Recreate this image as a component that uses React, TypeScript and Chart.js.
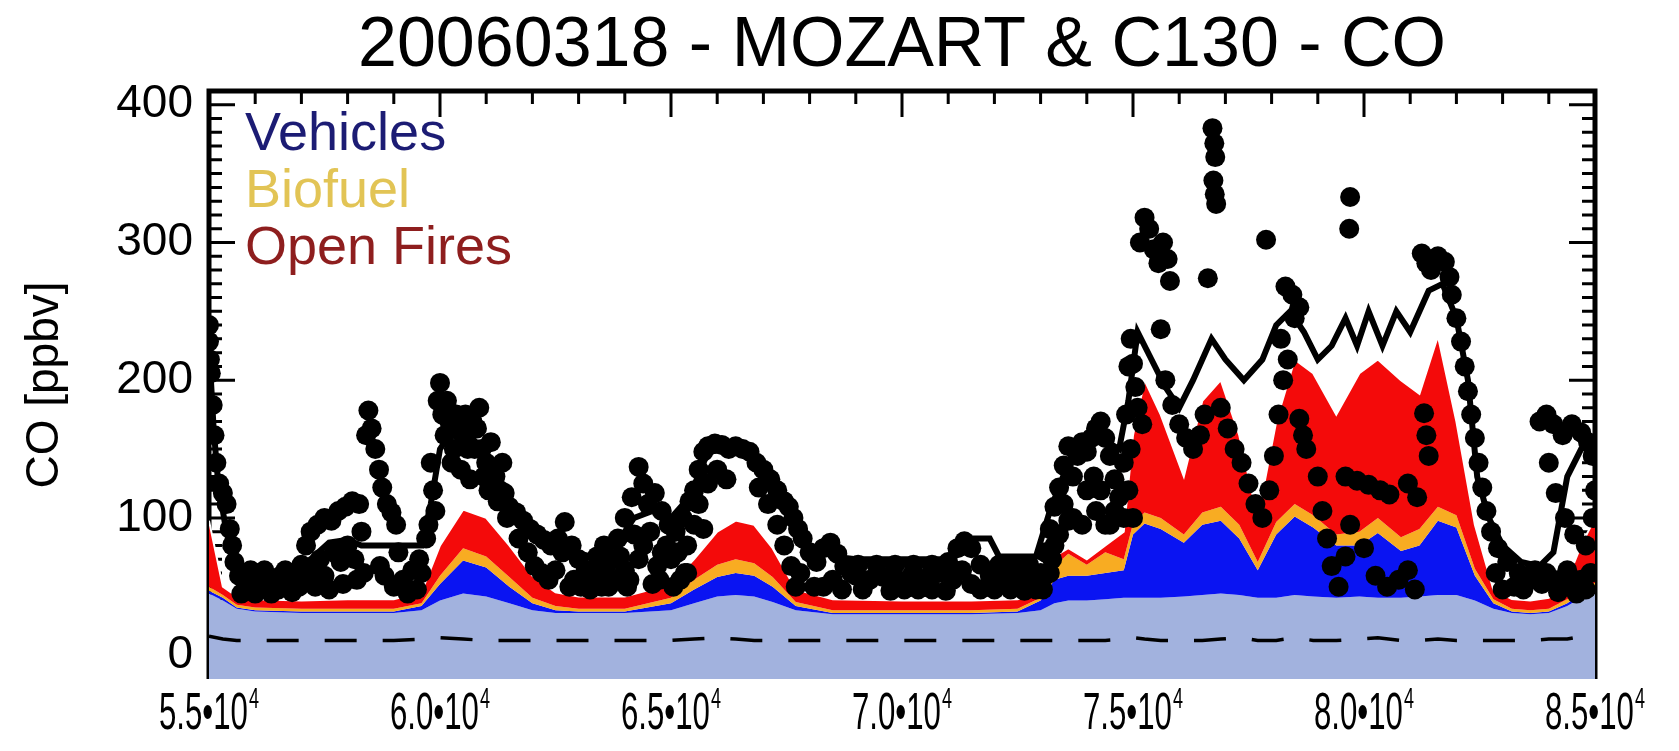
import React, { useEffect, useRef } from 'react';
import { Chart, registerables } from 'chart.js';

Chart.register(...registerables);

const TITLE = '20060318 - MOZART & C130 - CO';
const Y_TITLE = 'CO [ppbv]';
const LEGEND_LABELS = ['Vehicles', 'Biofuel', 'Open Fires'];
const LEGEND_COLORS = ['#1c1c74', '#e2c455', '#8e1e1e'];
const X_TICKS = [55000, 60000, 65000, 70000, 75000, 80000, 85000];
const X_MIN = 55000;
const X_MAX = 85000;
const X_STEP = 5000;
const X_MINOR = 1000;
const Y_MIN = -17;
const Y_MAX = 410;
const Y_STEP = 100;
const Y_MINOR = 10;

// MOZART tagged contributions (ppbv), increments stacked on top of each other
const modelX = [55000, 55300, 55600, 56000, 57000, 58000, 59000, 59600, 60000, 60500, 61000, 61500, 62000, 62500, 63000, 64000, 65000, 65500, 66000, 66400, 66800, 67200, 67700, 68500, 70000, 71500, 72500, 73000, 73300, 73600, 74000, 74400, 74800, 75000, 75250, 75600, 76100, 76500, 76900, 77300, 77700, 78100, 78500, 78900, 79400, 79900, 80300, 80800, 81200, 81600, 82000, 82400, 82800, 83200, 83600, 84000, 84400, 84700, 85000];
const background = [45, 40, 34, 32, 31, 31, 31, 33, 40, 45, 43, 38, 33, 31, 31, 31, 33, 38, 43, 44, 43, 39, 33, 30, 30, 30, 31, 33, 38, 40, 40, 41, 42, 42, 42, 42, 43, 44, 45, 44, 42, 42, 44, 43, 42, 43, 42, 42, 43, 44, 44, 40, 34, 31, 30, 31, 36, 42, 45];
const vehicles = [2, 2, 1, 1, 1, 1, 1, 3, 12, 24, 21, 12, 5, 2, 1, 1, 5, 10, 14, 16, 15, 11, 3, 1, 1, 1, 1, 7, 17, 18, 18, 19, 20, 46, 54, 50, 39, 51, 53, 41, 20, 46, 57, 50, 38, 37, 47, 34, 37, 54, 49, 18, 4, 1, 1, 1, 2, 3, 4];
const biofuel = [3, 2, 2, 2, 2, 2, 2, 2, 6, 9, 8, 7, 4, 3, 2, 2, 4, 7, 9, 10, 9, 7, 3, 2, 2, 2, 2, 2, 10, 16, 8, 15, 8, 8, 8, 8, 6, 9, 10, 10, 6, 9, 9, 9, 8, 10, 11, 10, 12, 10, 9, 5, 3, 2, 2, 2, 3, 3, 4];
const openFires = [48, 6, 6, 6, 6, 7, 7, 8, 22, 28, 28, 23, 16, 10, 9, 9, 10, 15, 24, 28, 28, 21, 9, 8, 7, 7, 7, 2, 7, 4, 4, 5, 20, 64, 96, 75, 42, 81, 92, 65, 32, 73, 105, 103, 87, 115, 115, 114, 98, 124, 68, 32, 7, 7, 7, 8, 14, 32, 47];
const dashedRef = [14, 12, 11, 11, 11, 11, 11, 12, 13, 12, 11, 11, 11, 11, 11, 11, 11, 12, 13, 12, 11, 11, 11, 11, 11, 11, 11, 11, 11, 11, 11, 11, 12, 13, 12, 11, 11, 11, 12, 13, 11, 11, 13, 11, 11, 12, 13, 11, 11, 12, 11, 11, 11, 11, 11, 12, 12, 14, 13];

// black line
const lineX = [55000, 55100, 55200, 55350, 55500, 55700, 56200, 56800, 57200, 57600, 58000, 58300, 59000, 59600, 59800, 60000, 60300, 60700, 61000, 61400, 61800, 62300, 62800, 63300, 63800, 64200, 64600, 65000, 65400, 65800, 66300, 66800, 67200, 67600, 68000, 68500, 69000, 70000, 71100, 71400, 71900, 72100, 72900, 73200, 73600, 74000, 74300, 74700, 74900, 75100, 75400, 75700, 76000, 76300, 76700, 77000, 77400, 77800, 78100, 78400, 78700, 79000, 79300, 79600, 79850, 80100, 80400, 80700, 81000, 81400, 81700, 82000, 82250, 82450, 82700, 83000, 83400, 83800, 84100, 84400, 84700, 85000];
const lineY = [225, 165, 125, 95, 72, 60, 58, 60, 70, 82, 84, 80, 80, 80, 110, 150, 165, 158, 145, 115, 95, 82, 75, 72, 80, 100, 105, 100, 115, 148, 150, 145, 125, 100, 80, 72, 70, 70, 70, 85, 85, 72, 72, 105, 140, 150, 158, 150, 185, 235, 215, 195, 180, 200, 230, 215, 200, 215, 240, 250, 235, 215, 225, 245, 225, 250, 225, 250, 235, 265, 270, 245, 200, 130, 100, 80, 68, 65, 75, 130, 150, 155];

// C130 observations
const obsX = [55000, 55020, 55000, 55040, 55080, 55120, 55160, 55220, 55300, 55380, 55450, 55500, 55550, 55650, 55800, 55950, 56100, 56250, 56400, 56550, 56700, 56850, 57000, 57100, 57200, 57350, 57500, 57650, 57800, 57950, 58100, 58250, 57300, 57600, 57900, 58200, 58400, 58450, 58520, 58600, 58680, 58750, 58850, 58950, 59050, 58700, 58800, 59000, 59200, 59400, 59550, 59700, 59750, 59800, 59850, 59900, 59950, 60000, 60050, 60100, 60200, 60300, 60400, 60500, 60600, 60700, 60800, 60900, 61000, 61100, 61200, 61300, 61400, 61500, 61650, 61800, 61950, 62100, 62250, 62400, 62550, 62700, 62850, 63000, 63150, 63300, 63450, 63600, 63750, 63850, 64000, 64150, 64300, 64400, 64500, 64650, 64800, 64950, 65100, 65250, 65400, 65500, 65600, 65700, 65800, 65950, 66100, 66250, 66400, 66550, 66700, 66850, 67000, 67150, 67300, 67450, 67550, 67650, 67750, 67850, 68000, 68150, 68300, 68450, 68600, 68750, 68900, 62900, 63400, 63500, 63700, 64000, 64100, 64300, 64400, 64600, 64700, 64800, 65000, 65200, 67800, 68100, 69000, 69150, 69300, 69600, 69750, 69900, 70200, 70350, 70500, 70800, 70950, 71000, 71200, 71350, 71500, 71700, 71900, 72000, 72200, 72500, 72650, 72800, 73000, 73100, 73200, 73300, 73400, 73500, 73600, 73700, 73800, 73900, 74000, 74100, 74200, 74300, 74400, 74500, 74600, 74700, 74800, 74850, 74900, 74950, 75000, 75050, 75100, 75200, 73300, 73600, 73900, 74200, 74500, 74800, 75150, 75250, 75350, 75450, 75550, 75650, 75750, 75800, 75600, 76720, 76760, 76780, 76740, 76770, 76800, 76620, 77880, 78300, 78450, 78600, 78500, 79700, 79680, 81250, 81350, 81450, 81600, 81750, 81850, 81900, 82000, 82100, 82180, 82250, 82320, 82400, 82480, 82560, 82650, 82750, 82900, 83100, 83350, 83600, 83850, 84100, 84300, 84500, 84700, 84900, 83800, 83950, 84100, 84300, 84500, 84700, 84850, 84950, 84000, 84150, 84350, 84550, 84800, 84950, 85000, 75700, 75850, 76000, 76150, 76300, 76450, 76550, 76900, 77050, 77200, 77350, 77500, 77650, 77800, 77950, 78050, 78150, 78250, 78350, 78200, 78600, 78680, 78750, 79000, 79100, 79200, 79300, 79450, 79600, 79700, 79600, 79850, 80100, 80350, 80550, 80000, 80250, 80500, 80750, 80950, 81100, 80950, 81150, 81300, 81350, 81400,
  55700, 55900, 56000, 56200, 56350, 56500, 56650, 56800, 56950, 57050, 57200, 57400, 57500, 57700, 57850, 58000, 58150, 58300, 58350, 59100, 59300, 59500, 59600, 60150, 60250, 60350, 60450, 60550, 60650, 60750, 60850, 60950, 61050, 61150, 61250, 61350, 61450, 61700, 61900, 62050, 62200, 62350, 62500, 62650, 62800, 63050, 63250, 63550, 63650, 63900, 64050, 64200, 64550, 64750, 64900, 65050, 65150, 65350, 65300, 65600, 65800, 66000, 66200, 65500, 65700, 66900, 67100, 67300, 67450, 67600, 67700, 65350, 68300, 68500, 68700, 69050, 69450, 69850, 70050, 70250, 70650, 70650, 71100, 71300, 71500, 71700, 72100, 72350, 72400, 72900, 72750, 73050, 73200, 73400, 73500, 73700, 74000, 74150, 74300, 74400, 74600, 74900, 74950, 75000, 73100, 73250, 82850, 83000, 83250, 83450, 83700, 83950, 84200, 84400, 84600, 84800];
const obsY = [240, 215, 228, 205, 182, 160, 140, 125, 118, 110, 92, 80, 68, 58, 52, 55, 50, 56, 52, 58, 53, 60, 66, 80, 90, 95, 100, 98, 105, 108, 112, 110, 50, 48, 52, 55, 160, 178, 165, 150, 135, 122, 110, 104, 95, 65, 58, 50, 55, 62, 70, 85, 95, 140, 120, 105, 185, 198, 175, 160, 170, 150, 165, 160, 150, 170, 165, 150, 140, 155, 130, 120, 118, 108, 104, 98, 92, 88, 84, 80, 85, 97, 80, 70, 62, 58, 60, 65, 70, 85, 100, 115, 137, 125, 110, 118, 105, 95, 90, 100, 112, 120, 135, 148, 152, 154, 153, 150, 152, 150, 148, 140, 135, 128, 120, 112, 108, 100, 92, 85, 75, 68, 78, 82, 74, 65, 60, 55, 72, 50, 55, 62, 55, 70, 80, 52, 65, 75, 70, 55, 60, 50, 58, 48, 55, 57, 47, 55, 58, 48, 56, 60, 47, 68, 78, 83, 78, 66, 58, 48, 55, 57, 47, 56, 60, 75, 92, 108, 122, 138, 152, 130, 145, 155, 148, 158, 165, 170, 158, 145, 128, 115, 140, 175, 210, 230, 212, 195, 180, 168, 80, 98, 95, 105, 95, 100, 300, 318, 310, 295, 285, 300, 288, 272, 237, 383, 372, 362, 345, 335, 328, 274, 302, 268, 262, 253, 245, 333, 310, 292, 285, 280, 290, 286, 275, 262, 245, 228, 210, 192, 175, 158, 140, 122, 105, 90, 78, 68, 60, 55, 52, 55, 52, 50, 55, 60, 170, 175, 168, 160, 168, 162, 155, 145, 140, 118, 100, 88, 80, 100, 120, 200, 182, 168, 158, 150, 160, 175, 180, 165, 150, 140, 125, 110, 100, 120, 145, 175, 200, 215, 230, 172, 160, 150, 130, 105, 85, 65, 50, 72, 95, 130, 127, 124, 120, 117, 78, 58, 50, 55, 62, 48, 125, 115, 176, 160, 145,
  45, 62, 45, 62, 45, 48, 62, 46, 50, 55, 62, 70, 58, 75, 68, 80, 70, 90, 60, 75, 45, 48, 60, 185, 140, 175, 135, 175, 128, 150, 180, 130, 120, 135, 112, 140, 100, 85, 75, 65, 60, 55, 62, 75, 50, 50, 48, 80, 50, 72, 50, 88, 90, 55, 80, 50, 75, 80, 60, 110, 125, 135, 128, 95, 92, 122, 110, 95, 80, 65, 50, 60, 50, 55, 48, 66, 66, 66, 48, 66, 48, 66, 55, 62, 52, 48, 66, 48, 66, 48, 66, 48, 60, 88, 110, 100, 120, 130, 120, 95, 105, 120, 150, 100, 58, 70, 60, 48, 50, 48, 62, 60, 46, 62, 45, 48];

const FONT = '"Liberation Sans", Arial, Helvetica, sans-serif';

const idlAxes = {
  id: 'idlAxes',
  beforeDatasetsDraw(chart: any) {
    const { ctx, chartArea: a, scales } = chart;
    const x = scales.x;
    const y = scales.y;
    ctx.save();
    ctx.strokeStyle = '#000';
    ctx.lineWidth = 5;
    ctx.beginPath();
    ctx.moveTo(a.left, a.bottom);
    ctx.lineTo(a.left, a.top);
    ctx.lineTo(a.right, a.top);
    ctx.lineTo(a.right, a.bottom);
    ctx.stroke();
    ctx.lineWidth = 3;
    ctx.beginPath();
    for (let v = 0; v <= 400; v += Y_MINOR) {
      const py = y.getPixelForValue(v);
      const len = v % Y_STEP === 0 ? 26 : 13;
      ctx.moveTo(a.left, py);
      ctx.lineTo(a.left + len, py);
      ctx.moveTo(a.right, py);
      ctx.lineTo(a.right - len, py);
    }
    for (let v = X_MIN; v <= X_MAX; v += X_MINOR) {
      const px = x.getPixelForValue(v);
      const len = v % X_STEP === 0 ? 26 : 13;
      ctx.moveTo(px, a.top);
      ctx.lineTo(px, a.top + len);
    }
    ctx.stroke();
    ctx.restore();
  },
};

const textPlugin = {
  id: 'textPlugin',
  afterDraw(chart: any) {
    const { ctx, chartArea: a, scales } = chart;
    ctx.save();
    // title
    ctx.fillStyle = '#000';
    ctx.font = `70px ${FONT}`;
    ctx.textAlign = 'center';
    ctx.textBaseline = 'alphabetic';
    ctx.fillText(TITLE, (a.left + a.right) / 2, 66);
    // legend
    ctx.font = `54px ${FONT}`;
    ctx.textAlign = 'left';
    LEGEND_LABELS.forEach((label, i) => {
      ctx.fillStyle = LEGEND_COLORS[i];
      ctx.fillText(label, a.left + 36, a.top + 59 + i * 57);
    });
    // x tick labels (condensed, with superscript exponent)
    ctx.fillStyle = '#000';
    const sx = 0.6;
    X_TICKS.forEach((v) => {
      const px = scales.x.getPixelForValue(v);
      const main = `${(v / 10000).toFixed(1)}•10`;
      const sup = '4';
      ctx.font = `52px ${FONT}`;
      const w1 = ctx.measureText(main).width;
      ctx.font = `30px ${FONT}`;
      const w2 = ctx.measureText(sup).width;
      const total = (w1 + w2 + 2) * sx;
      ctx.save();
      ctx.translate(px - total / 2, 0);
      ctx.scale(sx, 1);
      ctx.font = `52px ${FONT}`;
      ctx.fillText(main, 0, a.bottom + 50);
      ctx.font = `30px ${FONT}`;
      ctx.fillText(sup, w1 + 2, a.bottom + 29);
      ctx.restore();
    });
    ctx.restore();
  },
};

export default function App() {
  const ref = useRef<HTMLCanvasElement | null>(null);

  useEffect(() => {
    const canvas = ref.current;
    if (!canvas) return;
    const lvl1 = background.map((b) => b);
    const lvl2 = lvl1.map((v, i) => v + vehicles[i]);
    const lvl3 = lvl2.map((v, i) => v + biofuel[i]);
    const lvl4 = lvl3.map((v, i) => v + openFires[i]);
    const pts = (ys: number[]) => modelX.map((x, i) => ({ x, y: ys[i] }));

    const chart = new Chart(canvas, {
      type: 'line',
      data: {
        datasets: [
          { label: 'Background', data: pts(lvl1), borderWidth: 0, pointRadius: 0, fill: 'start', backgroundColor: '#a2b2de', borderColor: '#a2b2de', order: 10, tension: 0 },
          { label: 'Vehicles', data: pts(lvl2), borderWidth: 0, pointRadius: 0, fill: '-1', backgroundColor: '#0a14f2', borderColor: '#0a14f2', order: 9, tension: 0 },
          { label: 'Biofuel', data: pts(lvl3), borderWidth: 0, pointRadius: 0, fill: '-1', backgroundColor: '#f8ac22', borderColor: '#f8ac22', order: 8, tension: 0 },
          { label: 'Open Fires', data: pts(lvl4), borderWidth: 2, pointRadius: 0, fill: '-1', backgroundColor: '#f40a0a', borderColor: '#ffffff', order: 7, tension: 0 },
          { label: 'ref', data: pts(dashedRef), borderWidth: 3.5, borderDash: [32, 26], pointRadius: 0, fill: false, borderColor: '#000', order: 6, tension: 0 },
          { label: 'line', data: lineX.map((x, i) => ({ x, y: lineY[i] })), borderWidth: 6, pointRadius: 0, fill: false, borderColor: '#000', order: 5, tension: 0 },
          { label: 'C130', data: obsX.map((x, i) => ({ x, y: obsY[i] })), showLine: false, pointRadius: 10, pointBorderWidth: 0, pointBackgroundColor: '#000', pointBorderColor: '#000', fill: false, order: 4, clip: 0 } as any,
        ],
      },
      options: {
        animation: false,
        responsive: false,
        devicePixelRatio: 1,
        layout: { padding: { left: 0, top: 91, right: 84, bottom: 0 } },
        plugins: {
          legend: { display: false },
          tooltip: { enabled: false },
          title: { display: false },
        },
        scales: {
          x: {
            type: 'linear',
            min: X_MIN,
            max: X_MAX,
            grid: { display: false, drawTicks: false },
            border: { display: false },
            ticks: { display: false, stepSize: X_STEP },
            afterFit: (s: any) => { s.height = 72; },
          },
          y: {
            type: 'linear',
            min: Y_MIN,
            max: Y_MAX,
            grid: { display: false, drawTicks: false },
            border: { display: false },
            ticks: {
              stepSize: Y_STEP,
              includeBounds: false,
              color: '#000',
              padding: 16,
              font: { family: FONT, size: 46 },
            },
            title: {
              display: true,
              text: Y_TITLE,
              color: '#000',
              font: { family: FONT, size: 46 },
              padding: { top: 18, bottom: 0 },
            },
            afterFit: (s: any) => { s.width = 209; },
          },
        },
      },
      plugins: [idlAxes, textPlugin],
    });
    return () => chart.destroy();
  }, []);

  return (
    <div style={{ position: 'fixed', left: 0, top: 0, width: 1679, height: 751, background: '#fff' }}>
      <canvas ref={ref} width={1679} height={751} style={{ display: 'block' }} />
    </div>
  );
}
